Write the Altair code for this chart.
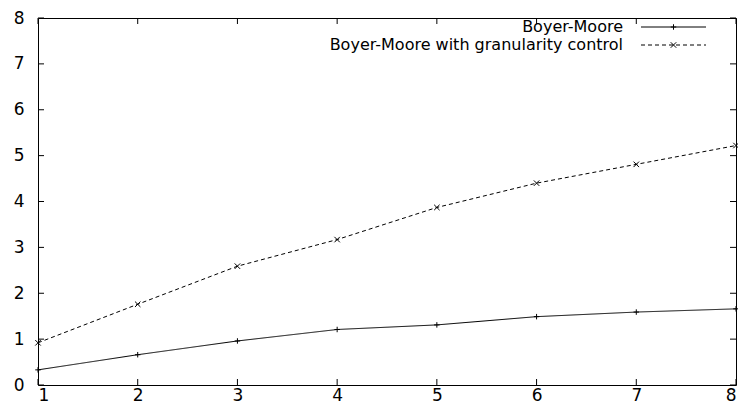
import altair as alt
import pandas as pd

# ---- data ----
threads = [1, 2, 3, 4, 5, 6, 7, 8]
boyer_moore = [0.33, 0.66, 0.96, 1.21, 1.31, 1.49, 1.59, 1.66]
boyer_moore_gc = [0.92, 1.76, 2.59, 3.17, 3.87, 4.40, 4.81, 5.22]
series_names = ["Boyer-Moore", "Boyer-Moore with granularity control"]
x_ticks = [1, 2, 3, 4, 5, 6, 7, 8]
y_ticks = [0, 1, 2, 3, 4, 5, 6, 7, 8]

# ---- styling ----
W, H = 698, 367
FONT = "DejaVu Sans"
FS = 17
LFS = 16
PLUS = "M-1,0L1,0M0,-1L0,1"
XMARK = "M-1,-1L1,1M-1,1L1,-1"
shapes = [PLUS, XMARK]
sizes = [30, 30]
dashes = [[1, 0], [4, 3]]

xs = alt.Scale(domain=[1, 8], nice=False, zero=False)
ys = alt.Scale(domain=[0, 8], nice=False, zero=False)

x_axis = alt.Axis(values=x_ticks, ticks=False, tickSize=0, domain=False, grid=False,
                  labelFont=FONT, labelFontSize=FS, labelColor="black",
                  labelPadding=2, title=None, format="d")
y_axis = alt.Axis(values=y_ticks, ticks=False, tickSize=0, domain=False, grid=False,
                  labelFont=FONT, labelFontSize=FS, labelColor="black",
                  labelPadding=14, title=None, format="d")

layers = []

# series lines and markers
for i, (name, vals) in enumerate(zip(series_names, [boyer_moore, boyer_moore_gc])):
    df = pd.DataFrame({"threads": threads, "speedup": vals})
    base = alt.Chart(df)
    line = base.mark_line(color="black", strokeWidth=1, strokeDash=dashes[i]).encode(
        x=alt.X("threads:Q", scale=xs, axis=x_axis),
        y=alt.Y("speedup:Q", scale=ys, axis=y_axis),
    )
    pts = base.mark_point(shape=shapes[i], filled=False, color="black",
                          strokeWidth=1, size=sizes[i], opacity=1).encode(
        x=alt.X("threads:Q", scale=xs),
        y=alt.Y("speedup:Q", scale=ys),
    )
    layers += [line, pts]

# inward ticks (gnuplot style, mirrored)
xt = alt.Chart(pd.DataFrame({"t": x_ticks}))
yt = alt.Chart(pd.DataFrame({"t": y_ticks}))
TL = 6
layers.append(xt.mark_rule(color="black", strokeWidth=1).encode(
    x=alt.X("t:Q", scale=xs), y=alt.value(H), y2=alt.value(H - TL)))
layers.append(xt.mark_rule(color="black", strokeWidth=1).encode(
    x=alt.X("t:Q", scale=xs), y=alt.value(0), y2=alt.value(TL)))
layers.append(yt.mark_rule(color="black", strokeWidth=1).encode(
    y=alt.Y("t:Q", scale=ys), x=alt.value(0), x2=alt.value(TL)))
layers.append(yt.mark_rule(color="black", strokeWidth=1).encode(
    y=alt.Y("t:Q", scale=ys), x=alt.value(W), x2=alt.value(W - TL)))

# manual legend (label left, sample right, like gnuplot)
legend_rows = [9, 27]
for i, name in enumerate(series_names):
    ly = legend_rows[i]
    ldf = alt.Chart(pd.DataFrame({"label": [name]}))
    layers.append(ldf.mark_text(align="right", baseline="middle", font=FONT,
                                fontSize=LFS, color="black").encode(
        text="label:N", x=alt.value(585), y=alt.value(ly)))
    layers.append(ldf.mark_rule(color="black", strokeWidth=1, strokeDash=dashes[i]).encode(
        x=alt.value(603), x2=alt.value(668), y=alt.value(ly)))
    layers.append(ldf.mark_point(shape=shapes[i], filled=False, color="black",
                                 strokeWidth=1, size=sizes[i], opacity=1).encode(
        x=alt.value(635.5), y=alt.value(ly)))

chart = alt.layer(*layers).properties(
    width=W, height=H,
    autosize=alt.AutoSizeParams(type="none"),
    padding={"left": 30, "top": 10, "right": 2, "bottom": 30},
    background="white",
).configure_view(stroke="black", strokeWidth=1)

chart.save("out.html", embed_options={"renderer": "svg", "actions": False})
